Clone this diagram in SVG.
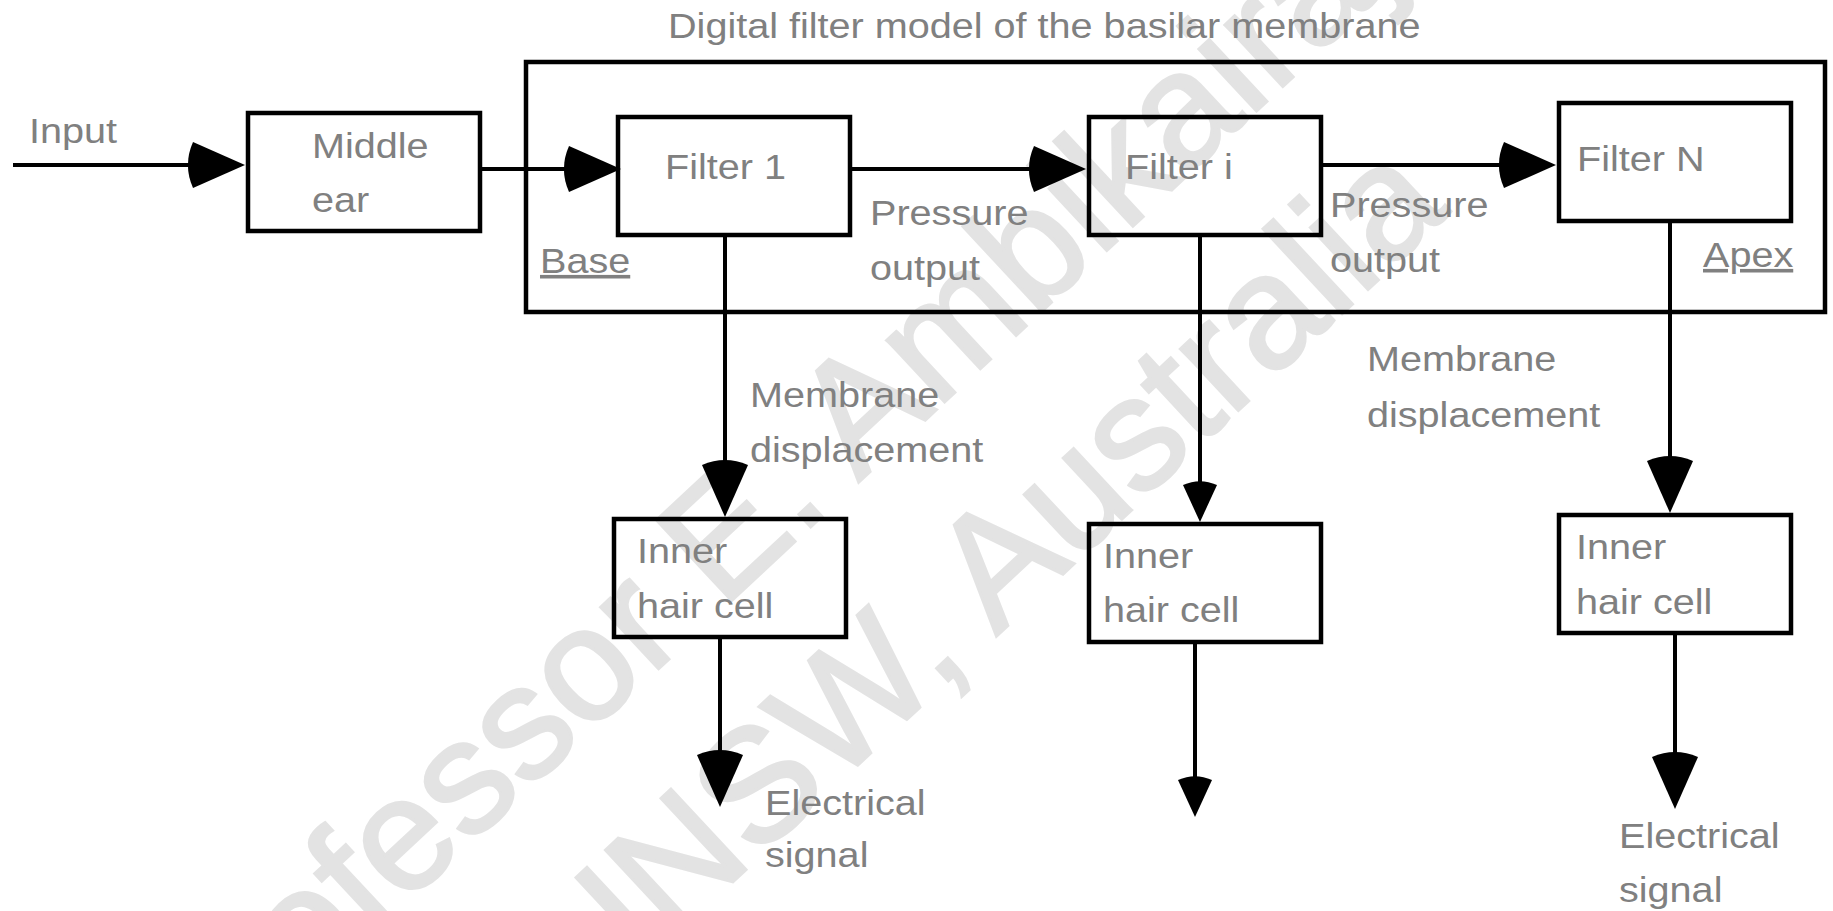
<svg xmlns="http://www.w3.org/2000/svg" width="1833" height="911" viewBox="0 0 1833 911">
<style>
.box{fill:none;stroke:#000;stroke-width:4.5}
.ln{fill:none;stroke:#000;stroke-width:4}
.t{font-family:"Liberation Sans",Arial,Helvetica,sans-serif;font-size:36px;fill:#808080}
.wm{font-family:"Liberation Sans",Arial,Helvetica,sans-serif;font-size:160px;fill:#e3e3e3;stroke:#e3e3e3;stroke-width:3;text-anchor:middle}
</style>
<defs>
<marker id="ah" markerUnits="userSpaceOnUse" viewBox="-80 -30 90 60" markerWidth="90" markerHeight="60" refX="-20" refY="0" orient="auto" overflow="visible">
<path d="M0,0 L-52,-23 A57,57 0 0 0 -52,23 Z" fill="#000"/>
</marker>
<marker id="ahs" markerUnits="userSpaceOnUse" viewBox="-60 -25 70 50" markerWidth="70" markerHeight="50" refX="-15" refY="0" orient="auto" overflow="visible">
<path d="M0,0 L-37,-17 A41,41 0 0 0 -37,17 Z" fill="#000"/>
</marker>
</defs>
<rect width="1833" height="911" fill="#fff"/>
<g id="watermark">
<text class="wm" transform="translate(878,464) rotate(-43)">Professor E. Ambikairajah,</text>
<text class="wm" transform="translate(1019,615) rotate(-43)">UNSW, Australia</text>
</g>
<g id="basilar-membrane">
<rect class="box" x="526" y="62" width="1299" height="250"/>
<text class="t" transform="matrix(1.1 0 0 1 668 38)">Digital filter model of the basilar membrane</text>
<text class="t" text-decoration="underline" transform="matrix(1.1 0 0 1 540 273)">Base</text>
<text class="t" text-decoration="underline" transform="matrix(1.1 0 0 1 1703 267)">Apex</text>
</g>
<g id="middle-ear">
<rect class="box" x="248" y="113" width="232" height="118"/>
<text class="t" transform="matrix(1.1 0 0 1 312 158)">Middle<tspan x="0" y="54">ear</tspan></text>
</g>
<g id="filter-1">
<rect class="box" x="618" y="117" width="232" height="118"/>
<text class="t" transform="matrix(1.1 0 0 1 665 179)">Filter 1</text>
</g>
<g id="filter-i">
<rect class="box" x="1089" y="117" width="232" height="118"/>
<text class="t" transform="matrix(1.1 0 0 1 1125 179)">Filter i</text>
</g>
<g id="filter-n">
<rect class="box" x="1559" y="103" width="232" height="118"/>
<text class="t" transform="matrix(1.1 0 0 1 1577 171)">Filter N</text>
</g>
<g id="ihc-1">
<rect class="box" x="614" y="519" width="232" height="118"/>
<text class="t" transform="matrix(1.1 0 0 1 637 563)">Inner<tspan x="0" y="55">hair cell</tspan></text>
</g>
<g id="ihc-2">
<rect class="box" x="1089" y="524" width="232" height="118"/>
<text class="t" transform="matrix(1.1 0 0 1 1103 568)">Inner<tspan x="0" y="54">hair cell</tspan></text>
</g>
<g id="ihc-3">
<rect class="box" x="1559" y="515" width="232" height="118"/>
<text class="t" transform="matrix(1.1 0 0 1 1576 559)">Inner<tspan x="0" y="55">hair cell</tspan></text>
</g>
<g id="connectors">
<path class="ln" d="M13,165 H225" marker-end="url(#ah)"/>
<path class="ln" d="M482,169 H601" marker-end="url(#ah)"/>
<path class="ln" d="M850,169 H1066" marker-end="url(#ah)"/>
<path class="ln" d="M1321,165 H1536" marker-end="url(#ah)"/>
<path class="ln" d="M725,237 V497" marker-end="url(#ah)"/>
<path class="ln" d="M1200,237 V507" marker-end="url(#ahs)"/>
<path class="ln" d="M1670,223 V493" marker-end="url(#ah)"/>
<path class="ln" d="M720,639 V787" marker-end="url(#ah)"/>
<path class="ln" d="M1195,644 V802" marker-end="url(#ahs)"/>
<path class="ln" d="M1675,635 V789" marker-end="url(#ah)"/>
</g>
<g id="labels">
<text class="t" transform="matrix(1.1 0 0 1 29 143)">Input</text>
<text class="t" transform="matrix(1.1 0 0 1 870 225)">Pressure<tspan x="0" y="55">output</tspan></text>
<text class="t" transform="matrix(1.1 0 0 1 1330 217)">Pressure<tspan x="0" y="55">output</tspan></text>
<text class="t" transform="matrix(1.1 0 0 1 750 407)">Membrane<tspan x="0" y="55">displacement</tspan></text>
<text class="t" transform="matrix(1.1 0 0 1 1367 371)">Membrane<tspan x="0" y="56">displacement</tspan></text>
<text class="t" transform="matrix(1.1 0 0 1 765 815)">Electrical<tspan x="0" y="52">signal</tspan></text>
<text class="t" transform="matrix(1.1 0 0 1 1619 848)">Electrical<tspan x="0" y="54">signal</tspan></text>
</g>
</svg>
